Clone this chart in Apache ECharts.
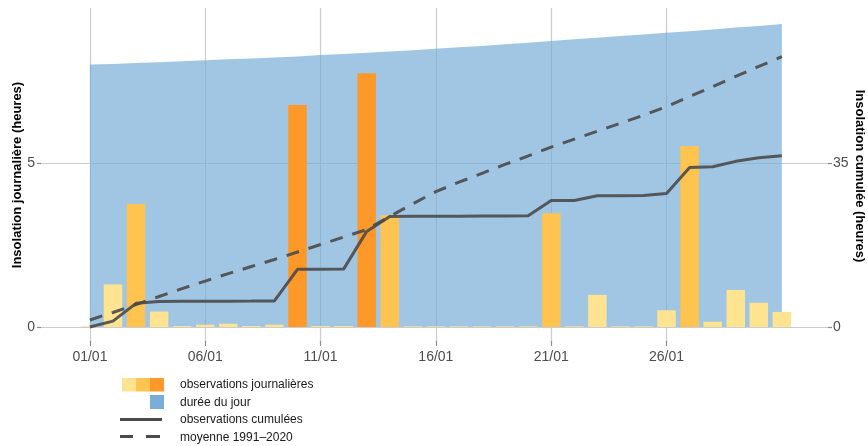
<!DOCTYPE html>
<html><head><meta charset="utf-8">
<script src="https://cdn.jsdelivr.net/npm/echarts@6/dist/echarts.min.js"></script>
<style>html,body{margin:0;padding:0;background:#fff}#c{width:868px;height:446px}</style>
</head><body><div id="c"></div>
<script>
// ---- data ----
const days = [1,2,3,4,5,6,7,8,9,10,11,12,13,14,15,16,17,18,19,20,21,22,23,24,25,26,27,28,29,30,31];
const dailySun = [0.02,1.3,3.75,0.47,0.03,0.07,0.1,0.03,0.07,6.77,0.03,0.03,7.74,3.41,0.02,0.02,0.02,0.02,0.02,0.02,3.47,0.02,0.98,0.02,0.02,0.51,5.52,0.16,1.13,0.74,0.46];
const cumulSun = [0,1.25,5.05,5.45,5.47,5.5,5.52,5.53,5.55,12.3,12.32,12.35,20.4,23.6,23.62,23.64,23.66,23.68,23.7,23.72,27.0,27.0,28.0,28.0,28.05,28.5,34.05,34.2,35.35,36.1,36.55];
const normalCumul = [1.5,3.1,4.8,6.5,8.2,9.8,11.4,12.9,14.4,16.0,17.6,19.2,20.8,23.6,26.3,28.9,30.9,32.8,34.7,36.5,38.4,40.1,41.8,43.5,45.2,47.0,49.2,51.3,53.5,55.6,57.7];
const dayLength = [8.00,8.02,8.05,8.07,8.10,8.13,8.16,8.19,8.22,8.25,8.29,8.32,8.36,8.40,8.44,8.48,8.53,8.57,8.62,8.67,8.72,8.77,8.82,8.87,8.92,8.97,9.02,9.07,9.13,9.18,9.24];
const xTickDays = [1,6,11,16,21,26];
const xTickLabels = ['01/01','06/01','11/01','16/01','21/01','26/01'];
const leftTicks = [0,5];
const rightTicks = [0,35];
const leftTitle = 'Insolation journalière (heures)';
const rightTitle = 'Insolation cumulée (heures)';
const legendLabels = ['observations journalières','durée du jour','observations cumulées','moyenne 1991–2020'];

const barColors = ['#fee391','#fec44f','#fe9929'];
function barColor(v){ return v < 3 ? barColors[0] : (v < 6 ? barColors[1] : barColors[2]); }
const areaColor = '#78aed8';
const lineColor = '#4a4a4a';
const font = 'Liberation Sans, Arial, Helvetica, sans-serif';

const chart = echarts.init(document.getElementById('c'), null, {renderer:'canvas'});
const option = {
  animation: false,
  backgroundColor: '#ffffff',
  grid: {left: 41, right: 40, top: 8, bottom: 105, containLabel: false, outerBoundsMode: 'none'},
  xAxis: {
    type: 'value', min: -1.12, max: 33,
    axisLine: {show: false, onZero: false},
    axisTick: {show: true, customValues: xTickDays, length: 5, lineStyle: {color: '#8c8c8c', width: 1.2}},
    axisLabel: {customValues: xTickDays, margin: 9, fontSize: 14, color: '#4d4d4d', fontFamily: font,
      formatter: v => xTickLabels[xTickDays.indexOf(v)]},
    splitLine: {show: true, lineStyle: {color: '#cdcdcd', width: 1.2}}
  },
  yAxis: [{
    type: 'value', min: -0.427, max: 9.726, position: 'left',
    axisLine: {show: false, onZero: false},
    axisTick: {show: true, customValues: leftTicks, length: 4, lineStyle: {color: '#8c8c8c', width: 1.2}},
    axisLabel: {customValues: leftTicks, margin: 6, fontSize: 14, color: '#4d4d4d', fontFamily: font},
    splitLine: {show: true, lineStyle: {color: '#cdcdcd', width: 1.2}}
  },{
    type: 'value', min: -2.99, max: 68.08, position: 'right',
    axisLine: {show: false, onZero: false},
    axisTick: {show: true, customValues: rightTicks, length: 4, lineStyle: {color: '#8c8c8c', width: 1.2}},
    axisLabel: {customValues: rightTicks, margin: 5, fontSize: 14, color: '#4d4d4d', fontFamily: font},
    splitLine: {show: false}
  }],
  series: [{
    name: legendLabels[1], type: 'line', yAxisIndex: 0, z: 1, silent: true,
    data: days.map((d,i) => [d, dayLength[i]]),
    symbol: 'none', lineStyle: {width: 0},
    areaStyle: {color: areaColor, opacity: 0.7}
  },{
    name: legendLabels[0], type: 'bar', yAxisIndex: 0, z: 2, barWidth: 18.5,
    data: days.map((d,i) => ({value: [d, dailySun[i]], itemStyle: {color: barColor(dailySun[i])}}))
  },{
    name: legendLabels[2], type: 'line', yAxisIndex: 1, z: 3,
    data: days.map((d,i) => [d, cumulSun[i]]),
    symbol: 'none', lineStyle: {color: lineColor, width: 3, opacity: 0.9}
  },{
    name: legendLabels[3], type: 'line', yAxisIndex: 1, z: 3,
    data: days.map((d,i) => [d, normalCumul[i]]),
    symbol: 'none', lineStyle: {color: lineColor, width: 3, opacity: 0.9, type: [13, 10]}
  }],
  graphic: [
    {type:'text', x:17, y:175, rotation: Math.PI/2,
      style:{text:leftTitle, fill:'#000', font:'bold 13px '+font, textAlign:'center', textVerticalAlign:'middle'}},
    {type:'text', x:860, y:176, rotation: -Math.PI/2,
      style:{text:rightTitle, fill:'#000', font:'bold 13px '+font, textAlign:'center', textVerticalAlign:'middle'}},
    {type:'rect', shape:{x:122,y:378,width:14,height:13.5}, style:{fill:barColors[0]}},
    {type:'rect', shape:{x:136,y:378,width:14,height:13.5}, style:{fill:barColors[1]}},
    {type:'rect', shape:{x:150,y:378,width:14,height:13.5}, style:{fill:barColors[2]}},
    {type:'rect', shape:{x:150,y:395,width:14,height:14}, style:{fill:areaColor}},
    {type:'line', shape:{x1:120,y1:419.5,x2:162,y2:419.5}, style:{stroke:lineColor, lineWidth:3}},
    {type:'line', shape:{x1:120,y1:436.5,x2:133,y2:436.5}, style:{stroke:lineColor, lineWidth:3}},
    {type:'line', shape:{x1:146,y1:436.5,x2:160,y2:436.5}, style:{stroke:lineColor, lineWidth:3}},
    {type:'text', x:180, y:385, style:{text:legendLabels[0], fill:'#1a1a1a', font:'12px '+font, textVerticalAlign:'middle'}},
    {type:'text', x:180, y:402.5, style:{text:legendLabels[1], fill:'#1a1a1a', font:'12px '+font, textVerticalAlign:'middle'}},
    {type:'text', x:180, y:420, style:{text:legendLabels[2], fill:'#1a1a1a', font:'12px '+font, textVerticalAlign:'middle'}},
    {type:'text', x:180, y:437.5, style:{text:legendLabels[3], fill:'#1a1a1a', font:'12px '+font, textVerticalAlign:'middle'}}
  ]
};
chart.setOption(option);
</script>
</body></html>
